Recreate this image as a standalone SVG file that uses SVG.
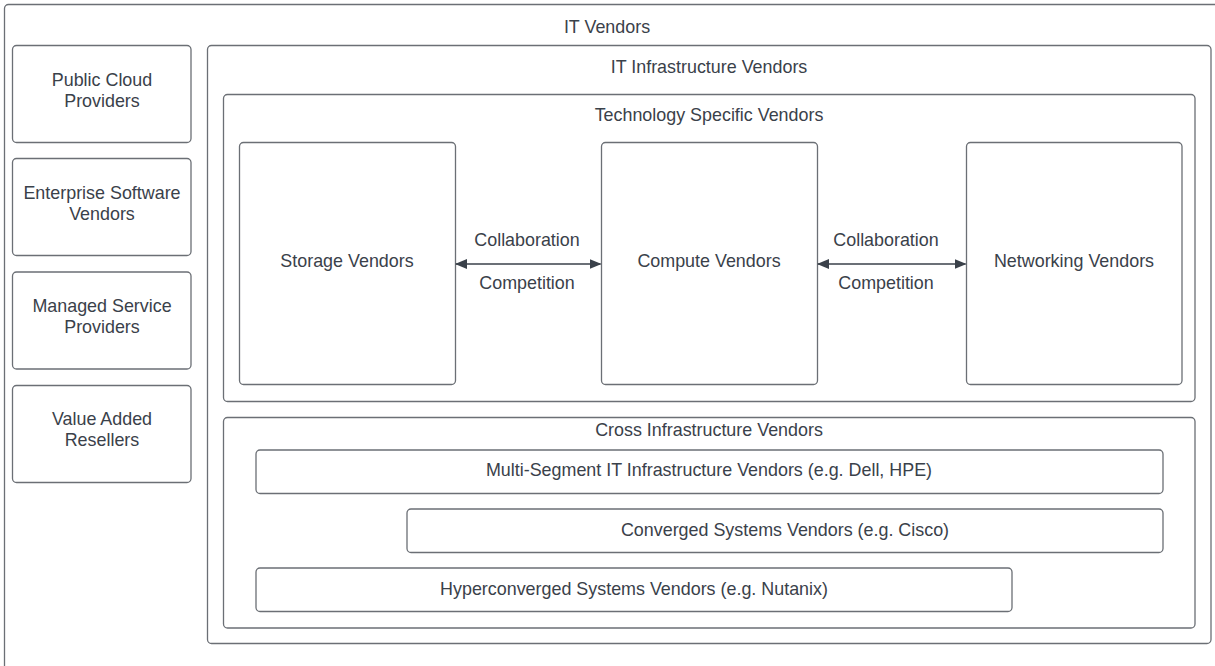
<svg xmlns="http://www.w3.org/2000/svg" width="1215" height="666" viewBox="0 0 1215 666">
<style>
.b{fill:#ffffff;stroke:#6b6f75;stroke-width:1.3}
.t{font-family:"Liberation Sans",Arial,sans-serif;font-size:17.9px;fill:#3a414a;text-anchor:middle;dominant-baseline:central}
.c{stroke:#3a414a;stroke-width:1.3;fill:none}
</style>
<defs>
<marker id="ah" viewBox="0 0 12 10" refX="11" refY="5" markerWidth="12" markerHeight="10" markerUnits="userSpaceOnUse" orient="auto-start-reverse">
<path d="M0,0 L12,5 L0,10 Z" fill="#3a414a"/>
</marker>
</defs>
<rect width="1215" height="666" fill="#ffffff"/>
<g id="it-vendors"><rect class="b" x="4.5" y="4.5" width="1230" height="680" rx="4"/><text class="t" x="607" y="27">IT Vendors</text></g>
<g id="public-cloud"><rect class="b" x="12.5" y="45.5" width="178.5" height="97" rx="4"/><text class="t" x="102" y="80">Public Cloud</text><text class="t" x="102" y="101">Providers</text></g>
<g id="enterprise-software"><rect class="b" x="12.5" y="158.5" width="178.5" height="97" rx="4"/><text class="t" x="102" y="193">Enterprise Software</text><text class="t" x="102" y="214">Vendors</text></g>
<g id="managed-service"><rect class="b" x="12.5" y="272" width="178.5" height="97" rx="4"/><text class="t" x="102" y="306">Managed Service</text><text class="t" x="102" y="327">Providers</text></g>
<g id="value-added"><rect class="b" x="12.5" y="385.5" width="178.5" height="97" rx="4"/><text class="t" x="102" y="419">Value Added</text><text class="t" x="102" y="440">Resellers</text></g>
<g id="it-infrastructure"><rect class="b" x="207.5" y="45.5" width="1003.5" height="598" rx="4"/><text class="t" x="709" y="67">IT Infrastructure Vendors</text></g>
<g id="technology-specific"><rect class="b" x="223.5" y="94.5" width="971.5" height="307" rx="4"/><text class="t" x="709" y="115">Technology Specific Vendors</text></g>
<g id="storage"><rect class="b" x="239.5" y="142.5" width="216" height="242" rx="4"/><text class="t" x="347" y="261">Storage Vendors</text></g>
<g id="compute"><rect class="b" x="601.5" y="142.5" width="216" height="242" rx="4"/><text class="t" x="709" y="261">Compute Vendors</text></g>
<g id="networking"><rect class="b" x="966.5" y="142.5" width="215.5" height="242" rx="4"/><text class="t" x="1074" y="261">Networking Vendors</text></g>
<g id="cross-infrastructure"><rect class="b" x="223.5" y="417.5" width="971.5" height="210.5" rx="4"/><text class="t" x="709" y="430">Cross Infrastructure Vendors</text></g>
<g id="multi-segment"><rect class="b" x="256" y="450" width="907" height="43.5" rx="4"/><text class="t" x="709" y="470">Multi-Segment IT Infrastructure Vendors (e.g. Dell, HPE)</text></g>
<g id="converged"><rect class="b" x="407" y="509" width="756" height="43.5" rx="4"/><text class="t" x="785" y="530">Converged Systems Vendors (e.g. Cisco)</text></g>
<g id="hyperconverged"><rect class="b" x="256" y="568" width="756" height="43.5" rx="4"/><text class="t" x="634" y="589">Hyperconverged Systems Vendors (e.g. Nutanix)</text></g>
<g id="connectors">
<line class="c" x1="456" y1="264" x2="600.5" y2="264" marker-start="url(#ah)" marker-end="url(#ah)"/>
<text class="t" x="527" y="240">Collaboration</text><text class="t" x="527" y="283">Competition</text>
<line class="c" x1="818" y1="264" x2="965.5" y2="264" marker-start="url(#ah)" marker-end="url(#ah)"/>
<text class="t" x="886" y="240">Collaboration</text><text class="t" x="886" y="283">Competition</text>
</g>
</svg>
